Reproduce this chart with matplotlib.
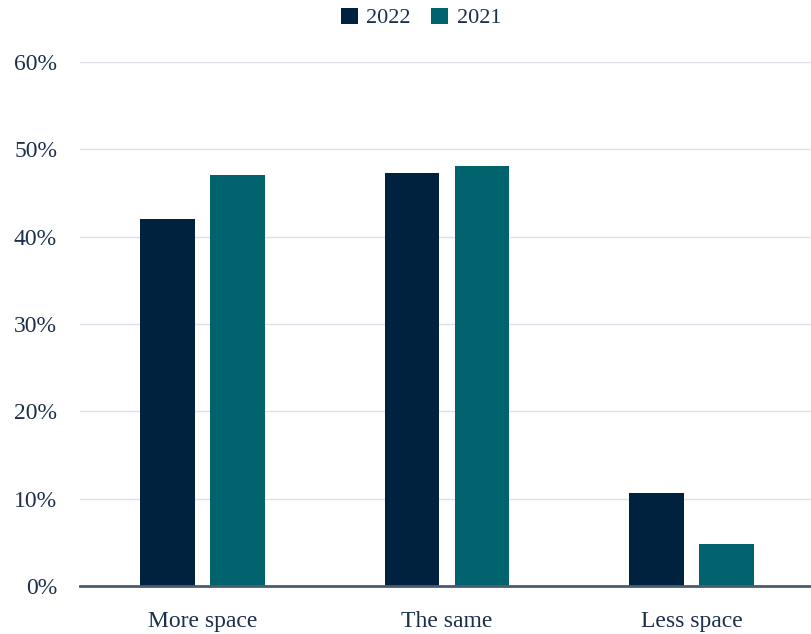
import numpy as np
import matplotlib.pyplot as plt

categories = ['More space', 'The same', 'Less space']
series_names = ['2022', '2021']
values_2022 = [42.0, 47.3, 10.7]
values_2021 = [47.1, 48.1, 4.8]
yticks = [0, 10, 20, 30, 40, 50, 60]

navy = '#00223f'
teal = '#00636e'
text_col = '#1c2f4c'

plt.rcParams['font.family'] = ['Liberation Serif', 'DejaVu Serif']

fig = plt.figure(figsize=(8.12, 6.34), dpi=100)
ax = fig.add_axes([80 / 812, 48 / 634, 734 / 812, (586 - 62) / 634])

x = np.arange(len(categories))
w = 0.2245
off = 0.143
ax.bar(x - off, values_2022, w, color=navy, label=series_names[0], zorder=3)
ax.bar(x + off, values_2021, w, color=teal, label=series_names[1], zorder=3)

ax.set_xlim(-0.5, 2.5)
ax.set_ylim(0, 60)
ax.set_yticks(yticks)
ax.set_yticklabels([f'{t}%' for t in yticks])
ax.set_xticks(x)
ax.set_xticklabels(categories)
ax.tick_params(axis='both', length=0, labelsize=17, colors=text_col)
ax.tick_params(axis='y', pad=16.5)
ax.tick_params(axis='x', pad=18)
for lab in ax.get_yticklabels():
    lab.set_horizontalalignment('right')

ax.grid(axis='y', color='#dedfea', linewidth=1, zorder=0)
ax.set_axisbelow(True)
for s in ['top', 'right', 'left']:
    ax.spines[s].set_visible(False)
ax.spines['bottom'].set_color('#4b5b70')
ax.spines['bottom'].set_linewidth(2)
ax.spines['bottom'].set_zorder(4)

leg = fig.legend(loc='center', bbox_to_anchor=(421 / 812, 1 - 18 / 634), ncol=2, frameon=False,
                 fontsize=16, handlelength=0.75, handleheight=0.75, handletextpad=0.4,
                 columnspacing=0.9)
for t in leg.get_texts():
    t.set_color(text_col)

fig.savefig('out.png', dpi=100)
